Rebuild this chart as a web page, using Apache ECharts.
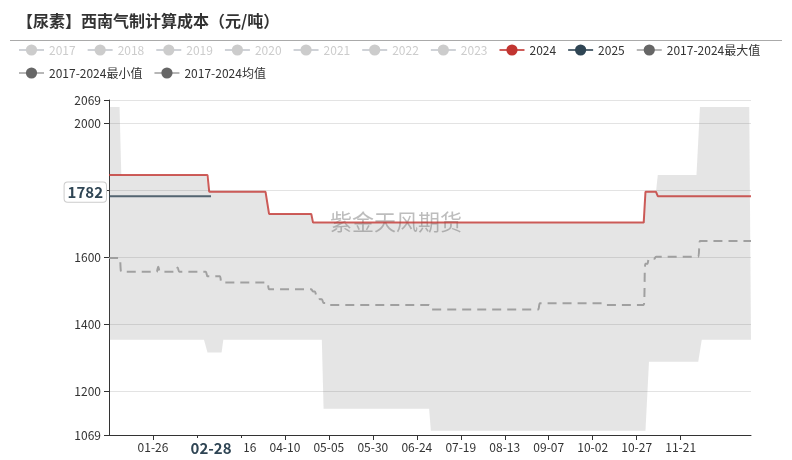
<!DOCTYPE html>
<html>
<head>
<meta charset="utf-8">
<script src="https://cdn.jsdelivr.net/npm/echarts@6/dist/echarts.min.js"></script>
<style>html,body{margin:0;padding:0;background:#fff}#chart{width:792px;height:460px}</style>
</head>
<body>
<div id="chart"></div>
<script>
// ---- categories: every day of 2024 as MM-DD ----
const categories = [];
for (let m = 0; m < 12; m++) {
  const n = new Date(2024, m + 1, 0).getDate();
  for (let d = 1; d <= n; d++) categories.push(String(m + 1).padStart(2, '0') + '-' + String(d).padStart(2, '0'));
}
// ---- data: [date the value starts, value] ----
const s2024Runs = [['01-01', 1845], ['02-27', 1795], ['04-01', 1729], ['04-26', 1703], ['11-01', 1795], ['11-08', 1782]];
const s2025Runs = [['01-01', 1782]];
const s2025End = '02-28';
const maxRuns = [['01-01', 2048], ['01-08', 1845], ['02-27', 1795], ['04-01', 1729], ['04-26', 1703], ['11-01', 1795], ['11-08', 1845], ['12-02', 2048]];
const minRuns = [['01-01', 1353], ['02-25', 1315], ['03-06', 1353], ['05-02', 1147], ['07-02', 1082], ['11-02', 1288], ['12-02', 1353]];
const meanRuns = [['01-01', 1597], ['01-08', 1556], ['01-29', 1571], ['01-30', 1556], ['02-09', 1569], ['02-10', 1556],
  ['02-26', 1543], ['03-05', 1524], ['04-01', 1504], ['04-26', 1497], ['04-28', 1486], ['04-30', 1474], ['05-02', 1463],
  ['05-05', 1457], ['07-02', 1444], ['09-02', 1462], ['10-09', 1457], ['11-01', 1580], ['11-03', 1595], ['11-07', 1601], ['12-02', 1648]];
const hiddenYears = ['2017', '2018', '2019', '2020', '2021', '2022', '2023'];
const yMin = 1069, yMax = 2069;
const pointerDate = '02-28';
const pointerLabelY = 1794; // where the latest-value tag sits on the y axis

function expand(runs, endDate) {
  const end = endDate ? categories.indexOf(endDate) : categories.length - 1;
  const out = [];
  let r = 0;
  for (let i = 0; i < categories.length; i++) {
    if (i > end) { out.push(null); continue; }
    while (r + 1 < runs.length && categories.indexOf(runs[r + 1][0]) <= i) r++;
    out.push(runs[r][1]);
  }
  return out;
}
const d2024 = expand(s2024Runs);
const d2025 = expand(s2025Runs, s2025End);
const dMax = expand(maxRuns);
const dMin = expand(minRuns);
const dMean = expand(meanRuns);
const dBand = dMax.map((v, i) => v - dMin[i]);
const latest2025 = d2025[categories.indexOf(pointerDate)];

const FONT = '"Noto Sans CJK SC", "Noto Sans", sans-serif';
const showIdx = (i) => i > 0 && i % 25 === 0 && i <= 325;

const series = [
  { name: '2017-2024最小值', type: 'line', stack: 'band', data: dMin, symbol: 'none', color: '#666',
    lineStyle: { opacity: 0 }, z: 1 },
  { name: '2017-2024最大值', type: 'line', stack: 'band', data: dBand, symbol: 'none', color: '#666',
    lineStyle: { opacity: 0 }, areaStyle: { color: '#666', opacity: 0.17 }, z: 1 },
  { name: '2017-2024均值', type: 'line', data: dMean, symbol: 'none', color: '#666', smooth: 0.4,
    lineStyle: { color: '#999', width: 2, type: [9, 6], opacity: 0.9 }, z: 3 }
];
hiddenYears.forEach(y => series.push({ name: y, type: 'line', data: [], symbol: 'none', color: '#999' }));
series.push({ name: '2024', type: 'line', data: d2024, symbol: 'none', color: '#c23531',
  lineStyle: { width: 2, opacity: 0.8 }, z: 4 });
series.push({ name: '2025', type: 'line', data: d2025, symbol: 'none', color: '#2f4554',
  lineStyle: { width: 2, opacity: 0.8 }, z: 5 });

const selected = {};
hiddenYears.forEach(y => selected[y] = false);

const legendData = hiddenYears.concat(['2024', '2025']).map(n => ({ name: n }));
legendData.push({ name: '2017-2024最大值', lineStyle: { opacity: 0.7, color: '#999' } });
legendData.push({ name: '2017-2024最小值', lineStyle: { opacity: 0.7, color: '#999' } });
legendData.push({ name: '2017-2024均值', lineStyle: { opacity: 0.7, color: '#999', type: 'solid' } });

const chart = echarts.init(document.getElementById('chart'), null, { renderer: 'canvas' });
chart.setOption({
  animation: false,
  textStyle: { fontFamily: FONT },
  title: {
    text: '【尿素】西南气制计算成本（元/吨）', left: 12, top: 8,
    textStyle: { fontSize: 16, fontWeight: 'bold', color: '#333', fontFamily: FONT }
  },
  graphic: [
    { type: 'line', shape: { x1: 10, y1: 40.5, x2: 782, y2: 40.5 }, style: { stroke: '#aaa', lineWidth: 1 }, silent: true },
    { type: 'text', left: 'center', top: 211, z: 0,
      style: { text: '紫金天风期货', font: '22px ' + FONT, fill: 'rgba(90,90,90,0.4)' }, silent: true }
  ],
  legend: {
    left: 13, top: 39, right: 8, itemGap: 11,
    data: legendData, selected: selected,
    textStyle: { fontSize: 12, color: '#333', fontFamily: FONT },
    inactiveColor: '#ccc'
  },
  grid: { left: 109, right: 41, top: 100, bottom: 25, containLabel: false },
  xAxis: {
    type: 'category', data: categories, boundaryGap: false,
    axisLine: { lineStyle: { color: '#333' } },
    axisTick: { interval: showIdx, lineStyle: { color: '#333' } },
    axisLabel: { interval: showIdx, color: '#333', fontSize: 12, margin: 6 },
    splitLine: { show: false },
    axisPointer: {
      show: true, type: 'none', status: 'show', value: categories.indexOf(pointerDate), triggerTooltip: false,
      label: { show: true, backgroundColor: '#fff', color: '#2f4554', fontWeight: 'bold', fontSize: 15,
        padding: [3, 13], margin: 3, fontFamily: FONT }
    }
  },
  yAxis: {
    type: 'value', min: yMin, max: yMax,
    axisLine: { show: true, lineStyle: { color: '#333' } },
    axisTick: { show: true, lineStyle: { color: '#333' } },
    axisLabel: { color: '#333', fontSize: 12, formatter: v => String(v) },
    splitLine: { lineStyle: { color: '#e3e3e3' } },
    axisPointer: {
      show: true, type: 'none', status: 'show', value: pointerLabelY, triggerTooltip: false,
      label: { show: true, backgroundColor: '#fff', borderColor: '#ccc', borderWidth: 1, color: '#2f4554',
        fontWeight: 'bold', fontSize: 15, padding: [2, 3], margin: 3, fontFamily: FONT,
        formatter: () => String(latest2025) }
    }
  },
  series: series
});
</script>
</body>
</html>
